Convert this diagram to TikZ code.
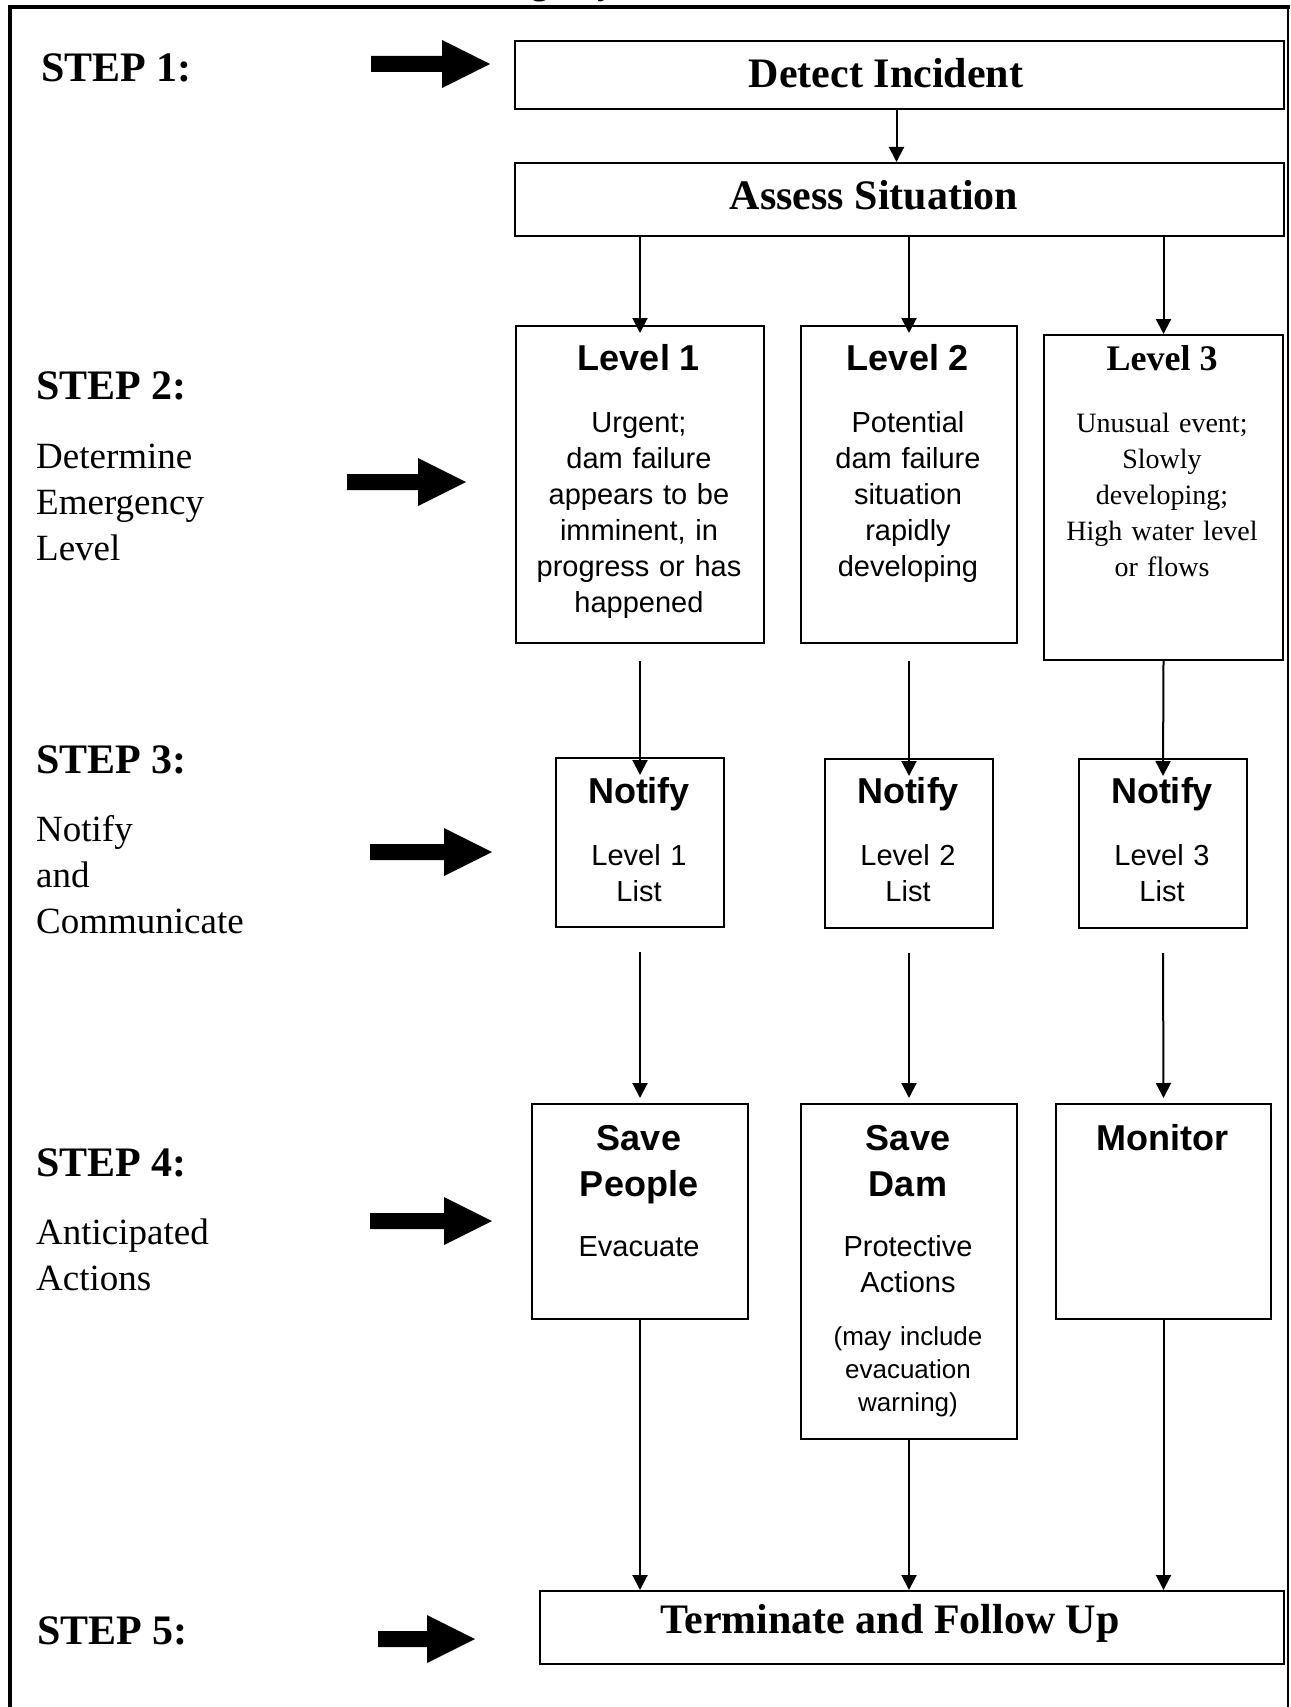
\documentclass[tikz,border=0pt]{standalone}
\usepackage{fontspec}
\setmainfont{Liberation Serif}
\newfontfamily\tms{Liberation Serif}
\newfontfamily\ars{Liberation Sans}
\usetikzlibrary{arrows.meta,calc}
\tikzset{
 box/.style={draw, line width=2pt, rectangle, inner sep=0pt, anchor=north west},
 conn/.style={line width=2pt, -{Triangle[length=15pt,width=15pt]}},
 txt/.style={inner sep=0pt, anchor=base},
 mtxt/.style={inner sep=0pt, anchor=base, align=center, text width=#1},
 stephd/.style={inner sep=0pt, anchor=base west, font=\tms\bfseries\fontsize{42}{46}\selectfont},
 stepdesc/.style={inner sep=0pt, anchor=base west, align=left, text width=300pt, font=\tms\fontsize{37}{46}\selectfont},
 bighd/.style={txt, font=\tms\bfseries\fontsize{42}{46}\selectfont},
 sanshd/.style={font=\ars\bfseries\fontsize{36}{46}\selectfont},
 sansbody/.style={font=\ars\fontsize{29}{36}\selectfont},
 sanssmall/.style={font=\ars\fontsize{26}{33}\selectfont},
 serifhd/.style={font=\tms\bfseries\fontsize{36}{46}\selectfont},
 serifbody/.style={font=\tms\fontsize{28}{36}\selectfont},
}
\newcommand\blockarrow[3]{\fill (#1,#3-8) -- (#2-48,#3-8) -- (#2-48,#3-24) -- (#2,#3) -- (#2-48,#3+24) -- (#2-48,#3+8) -- (#1,#3+8) -- cycle;}
\begin{document}
\begin{tikzpicture}[x=1pt,y=-1pt]
\useasboundingbox (0,0) rectangle (1290,1707);
\fill[white] (0,0) rectangle (1290,1707);
% cut-off title
\begin{scope}
\clip (0,0) rectangle (1290,1707);
\node[inner sep=0pt, anchor=base west, font=\tms\bfseries\fontsize{34}{40}\selectfont] (ttl) at (450,-5) {Emergency};
\end{scope}
% frame
\draw[line width=4pt] (8,7) -- (1290,7);
\draw[line width=4pt] (10,5) -- (10,1707);
\draw[line width=1.5pt] (1288,7) -- (1288,1707);
% boxes
\node[box, minimum width=769pt, minimum height=68pt] (de) at (514,40) {};
\node[box, minimum width=769pt, minimum height=73pt] (as) at (514,162) {};
\node[box, minimum width=248pt, minimum height=317pt] (lvA) at (515,325) {};
\node[box, minimum width=216pt, minimum height=317pt] (lvB) at (800,325) {};
\node[box, minimum width=239pt, minimum height=325pt] (lvC) at (1043,334) {};
\node[box, minimum width=168pt, minimum height=169pt] (ntA) at (555,757) {};
\node[box, minimum width=168pt, minimum height=169pt] (ntB) at (824,758) {};
\node[box, minimum width=168pt, minimum height=169pt] (ntC) at (1078,758) {};
\node[box, minimum width=216pt, minimum height=215pt] (sp) at (531,1103) {};
\node[box, minimum width=216pt, minimum height=335pt] (sd) at (800,1103) {};
\node[box, minimum width=215pt, minimum height=215pt] (mo) at (1055,1103) {};
\node[box, minimum width=744pt, minimum height=73pt] (tm) at (539,1590) {};
% box texts
\node[bighd] (deT) at (886,88) {Detect Incident};
\node[bighd] (asT) at (874,209) {Assess Situation};
\node[bighd] (tmT) at (890,1633) {Terminate and Follow Up};
\node[txt, sanshd] (lvAh) at (639,370) {Level 1};
\node[mtxt=240pt, sansbody] (lvAb) at (639,432) {Urgent;\\dam failure\\appears to be\\imminent, in\\progress or has\\happened};
\node[txt, sanshd] (lvBh) at (908,370) {Level 2};
\node[mtxt=210pt, sansbody] (lvBb) at (908,432) {Potential\\dam failure\\situation\\rapidly\\developing};
\node[txt, serifhd] (lvCh) at (1162,370) {Level 3};
\node[mtxt=235pt, serifbody] (lvCb) at (1162,432) {Unusual event;\\Slowly\\developing;\\High water level\\or flows};
\node[txt, sanshd] (ntAh) at (639,803) {Notify};
\node[mtxt=160pt, sansbody] (ntAb) at (639,865) {Level 1\\List};
\node[txt, sanshd] (ntBh) at (908,803) {Notify};
\node[mtxt=160pt, sansbody] (ntBb) at (908,865) {Level 2\\List};
\node[txt, sanshd] (ntCh) at (1162,803) {Notify};
\node[mtxt=160pt, sansbody] (ntCb) at (1162,865) {Level 3\\List};
\node[mtxt=210pt, sanshd] (spT) at (639,1150) {Save\\People};
\node[txt, sansbody] (spB) at (639,1256) {Evacuate};
\node[mtxt=210pt, sanshd] (sdT) at (908,1150) {Save\\Dam};
\node[mtxt=210pt, sansbody] (sdB) at (908,1256) {Protective\\Actions};
\node[mtxt=210pt, sanssmall] (sdS) at (908,1345) {(may include\\evacuation\\warning)};
\node[txt, sanshd] (moT) at (1162,1150) {Monitor};
% step labels
\node[stephd] (s1) at (41,82) {STEP 1:};
\node[stephd] (s2) at (36,399) {STEP 2:};
\node[stepdesc] (s2d) at (36,468) {Determine\\Emergency\\Level};
\node[stephd] (s3) at (36,773) {STEP 3:};
\node[stepdesc] (s3d) at (36,841) {Notify\\and\\Communicate};
\node[stephd] (s4) at (36,1176) {STEP 4:};
\node[stepdesc] (s4d) at (36,1244) {Anticipated\\Actions};
\node[stephd] (s5) at (37,1644) {STEP 5:};
% block arrows
\blockarrow{371}{490}{64}
\blockarrow{347}{466}{482}
\blockarrow{370}{492}{852}
\blockarrow{370}{492}{1221}
\blockarrow{378}{475}{1639}
% connectors
\draw[conn] ([xshift=-3pt]de.south) -- ([xshift=-3pt]as.north);
\draw[conn] (lvA.north |- as.south) -- ([yshift=-8pt]lvA.north);
\draw[conn] (lvB.north |- as.south) -- ([yshift=-8pt]lvB.north);
\draw[conn] (lvC.north |- as.south) -- (lvC.north);
\draw[conn] ([yshift=-17pt]lvA.south) -- ([yshift=-18pt]ntA.north);
\draw[conn] ([yshift=-17pt]lvB.south) -- ([yshift=-18pt]ntB.north);
\draw[conn] (lvC.south) -- ([yshift=-18pt]ntC.north);
\draw[conn] ([yshift=-24pt]ntA.south) -- ([yshift=5pt]sp.north);
\draw[conn] ([yshift=-24pt]ntB.south) -- ([yshift=5pt]sd.north);
\draw[conn] ([yshift=-24pt]ntC.south) -- ([yshift=5pt]mo.north);
\draw[conn] (sp.south) -- (sp.south |- tm.north);
\draw[conn] (sd.south) -- (sd.south |- tm.north);
\draw[conn] (mo.south) -- (mo.south |- tm.north);
\end{tikzpicture}
\end{document}
